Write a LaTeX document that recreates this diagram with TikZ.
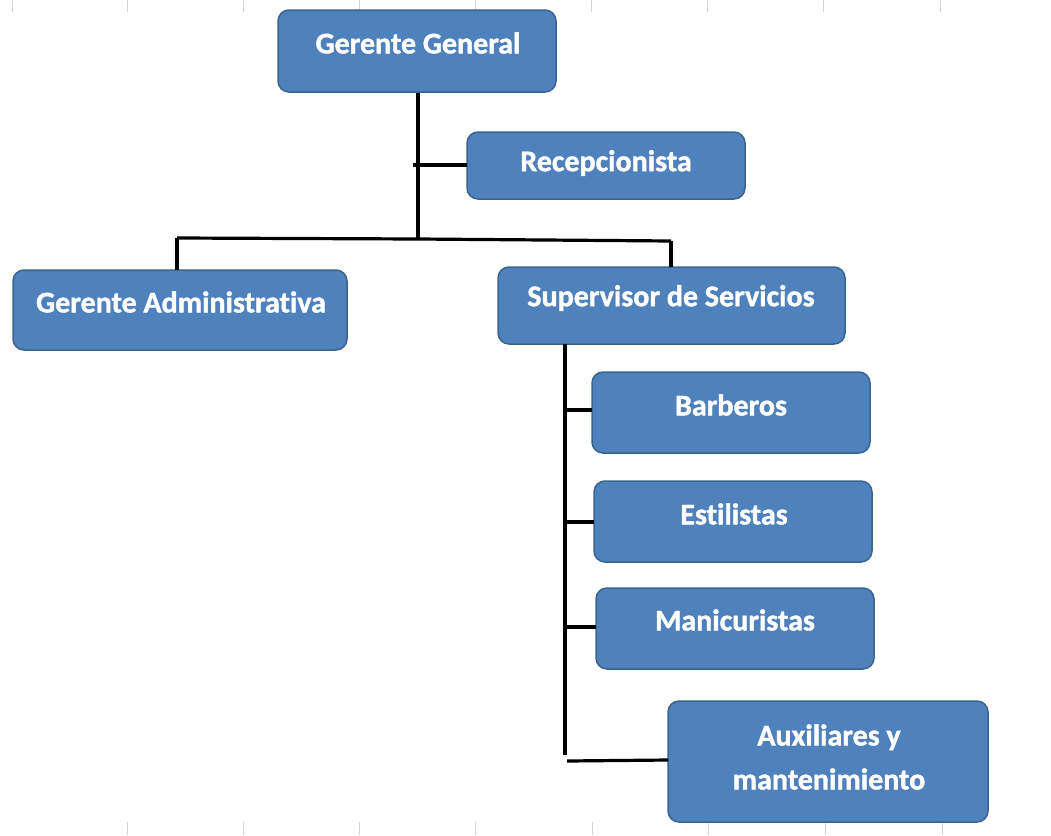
\documentclass[tikz,border=0pt]{standalone}
\usepackage{fontspec}
\setmainfont{Carlito}[Ligatures=NoCommon,BoldFeatures={FakeBold=1.3}]
\begin{document}
\begin{tikzpicture}[x=1pt,y=-1pt,
  orgbox/.style={draw=boxedge,fill=boxfill,line width=1.5pt,rounded corners=11pt},
  orgtext/.style={text=white,font=\bfseries\fontsize{30}{36}\selectfont,align=center,inner sep=0pt},
  link/.style={line width=3.2pt,black},
  grid/.style={draw=gridgray,line width=0.8pt}]
\definecolor{boxfill}{HTML}{4F81BD}
\definecolor{boxedge}{HTML}{3A6490}
\definecolor{gridgray}{HTML}{D4D4D4}
\useasboundingbox (0,0) rectangle (1051,835);

% faint sheet grid marks along the top and bottom edges
\foreach \gx in {12,127,243,359,475,591,707,823,940}
  \draw[grid] (\gx,0) -- (\gx,12);
\foreach \gx in {127,243,359,475,592,708,825,942}
  \draw[grid] (\gx,822) -- (\gx,835);

% boxes
\path[orgbox] (278,10) rectangle (556,92);
\node[orgtext] (ggt) at (418,43) {Gerente General};

\path[orgbox] (467,132) rectangle (745,199);
\node[orgtext] (rect) at (606,163) {Recepcionista};

\path[orgbox] (13,270) rectangle (347,350);
\node[orgtext] (gat) at (181,302) {Gerente Administrativa};

\path[orgbox] (498,267) rectangle (845,344);
\node[orgtext] (supt) at (671,298) {Supervisor de Servicios};

\path[orgbox] (592,372) rectangle (870,453);
\node[orgtext] (bar) at (731,405) {Barberos};

\path[orgbox] (594,481) rectangle (872,562);
\node[orgtext] (est) at (734,514) {Estilistas};

\path[orgbox] (596,588) rectangle (874,669);
\node[orgtext] (man) at (735,620) {Manicuristas};

\path[orgbox] (668,701) rectangle (988,822);
\node[orgtext] (aux) at (829,757) {Auxiliares y\\[8pt]mantenimiento};

% connectors
\coordinate (ggb) at (418,93);
\coordinate (busm) at (418,239);
\coordinate (busl) at (177,238);
\coordinate (busr) at (671,241);
\draw[link] (ggb) -- (busm);
\draw[link] (413,165) -- (467,165);
\draw[link] (busl) -- (busm) -- (busr);
\draw[link] (busl) -- (177,270);
\draw[link] (busr) -- (671,267);

\draw[link] (565,344) -- (565,755);
\draw[link] (565,410) -- (592,410);
\draw[link] (565,522) -- (594,522);
\draw[link] (565,627) -- (596,627);
\draw[link] (567,761) -- (668,760);
\end{tikzpicture}
\end{document}
